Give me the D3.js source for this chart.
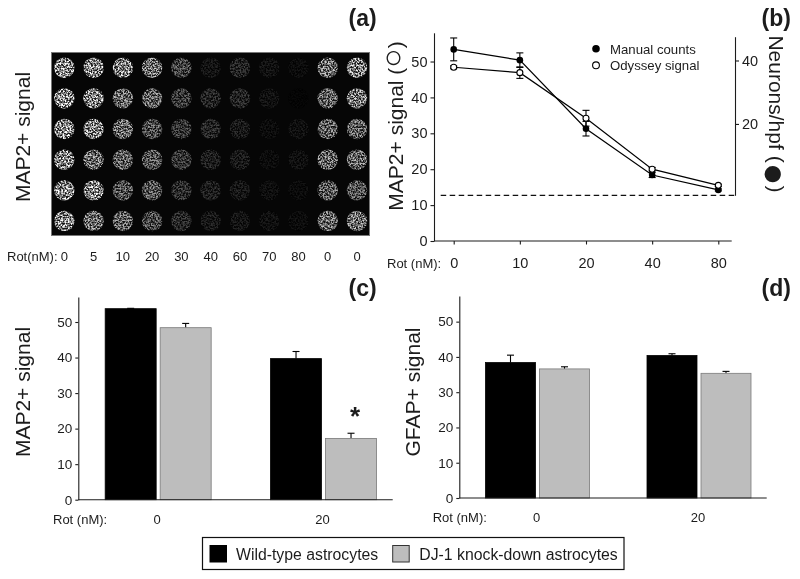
<!DOCTYPE html>
<html><head><meta charset="utf-8">
<script src="https://cdn.jsdelivr.net/npm/d3@7/dist/d3.min.js"></script>
<style>
html,body{margin:0;background:#fff}
svg{display:block;filter:blur(0.3px)}
text{font-family:"Liberation Sans",Arial,sans-serif;fill:#1c1c1c}
.b .tick text{font-size:14.5px}
.cd .tick text{font-size:13.5px}
</style></head><body><svg id="c" width="800" height="579"></svg>
<script>
// Panel (a)
const doseLabels=["0","5","10","20","30","40","60","70","80","0","0"];
const wellRows=["A","B","C","D","E","F"];
const wellSignal=[
[.95,.90,.85,.75,.45,.13,.24,.11,.08,.72,.85],
[.95,.90,.70,.65,.38,.24,.24,.11,.03,.66,.80],
[.90,.88,.70,.52,.36,.25,.17,.08,.10,.64,.64],
[.90,.72,.64,.56,.36,.20,.17,.08,.10,.68,.68],
[.95,.90,.55,.56,.30,.20,.15,.09,.07,.60,.56],
[.90,.72,.64,.50,.28,.16,.13,.10,.08,.68,.75]];
// Panel (b)
const bDoses=["0","10","20","40","80"];
const manualCounts=[43.5,40.1,18.5,3.9,-0.8];
const manualErr=[3.6,2.3,2.3,0.8,0.3];
const odysseySignal=[48.4,46.9,34.2,20,15.5];
const odysseyErr=[0.4,1.6,2.2,0.5,0.3];
const bLeftTicks=[0,10,20,30,40,50];
const bRightTicks=[20,40];
// Panels (c),(d)
const groups=["0","20"];
const seriesNames=["Wild-type astrocytes","DJ-1 knock-down astrocytes"];
const seriesColors=["#000000","#bdbdbd"];
const map2Values=[[53.75,48.4],[39.7,17.25]];
const map2Upper=[[53.85,49.6],[41.7,18.7]];
const gfapValues=[[38.4,36.6],[40.4,35.35]];
const gfapUpper=[[40.5,37.2],[40.9,35.9]];
const barTicks=[0,10,20,30,40,50];

const svg=d3.select("#c");
const defs=svg.append("defs");
const f=defs.append("filter").attr("id","speck").attr("color-interpolation-filters","sRGB")
 .attr("filterUnits","userSpaceOnUse").attr("x",50).attr("y",50).attr("width",322).attr("height",190);
f.append("feTurbulence").attr("type","fractalNoise").attr("baseFrequency",.6).attr("numOctaves",2).attr("seed",7).attr("result","n");
f.append("feColorMatrix").attr("in","n").attr("type","matrix")
 .attr("values","3.2 0 0 0 -1.15  3.2 0 0 0 -1.15  3.2 0 0 0 -1.15  0 0 0 0 1").attr("result","m");
f.append("feComposite").attr("in","SourceGraphic").attr("in2","m").attr("operator","arithmetic").attr("k1",1.0).attr("k2",.1).attr("result","c");
f.append("feGaussianBlur").attr("in","c").attr("stdDeviation",.45);

function rotLabel(parent,txt,x,y,size,rot,glyph,gSize,close,gShift=0){
  const t=parent.append("text").attr("transform",`translate(${x},${y}) rotate(${rot})`)
   .attr("text-anchor","middle").attr("font-size",size).text(txt);
  if(glyph){ t.append("tspan").attr("font-size",gSize).attr("dy",gShift).text(glyph); t.append("tspan").attr("dy",-gShift).text(close); }
  return t;
}
function letter(t,x,y){svg.append("text").attr("x",x).attr("y",y).attr("font-size",23).attr("font-weight","bold").text(t);}
function axisStyle(g){g.selectAll("path,line").attr("stroke","#1c1c1c").attr("stroke-width",1.1);}
letter("(a)",348.5,26);letter("(b)",761.5,26);letter("(c)",348.5,296);letter("(d)",761.5,296);

// ---- a
const ax=d3.scalePoint().domain(d3.range(doseLabels.length)).range([64.3,357]);
const ay=d3.scalePoint().domain(wellRows).range([67.7,221]);
svg.append("rect").attr("x",51.5).attr("y",52.5).attr("width",318).attr("height",183).attr("fill","#060606").attr("stroke","#777");
const spots=svg.append("g").attr("filter","url(#speck)");
wellSignal.forEach((row,r)=>row.forEach((v,c)=>{
  const k=Math.round(v*255);
  spots.append("circle").attr("cx",ax(c)).attr("cy",ay(wellRows[r])).attr("r",10.2).attr("fill",`rgb(${k},${k},${k})`);
}));
svg.append("g").selectAll("text").data(doseLabels).join("text").attr("x",(d,i)=>ax(i)).attr("y",261).attr("text-anchor","middle").attr("font-size",13).text(d=>d);
svg.append("text").attr("x",7).attr("y",261).attr("font-size",13).text("Rot(nM):");
rotLabel(svg,"MAP2+ signal",30,137,21,-90);

// ---- b
const bx=d3.scalePoint().domain(bDoses).range([453.7,718.3]);
const byL=d3.scaleLinear().domain([0,58]).range([241,32.8]);
const byR=d3.scaleLinear().domain([-2.5,47.5]).range([195.3,36.7]);
const gbL=svg.append("g").attr("class","b").attr("transform","translate(434,0)").call(d3.axisLeft(byL).tickValues(bLeftTicks).tickSize(3.5).tickSizeOuter(0).tickPadding(3));axisStyle(gbL);
const gbR=svg.append("g").attr("class","b").attr("transform","translate(735,0)").call(d3.axisRight(byR).tickValues(bRightTicks).tickSize(4).tickSizeOuter(0).tickPadding(3));axisStyle(gbR);
const gbB=svg.append("g").attr("class","b").attr("transform","translate(0,241)").call(d3.axisBottom(bx).tickSize(3.5).tickPadding(13));axisStyle(gbB);
gbB.select(".domain").remove();
svg.append("line").attr("x1",434).attr("x2",731.7).attr("y1",241).attr("y2",241).attr("stroke","#1c1c1c").attr("stroke-width",1.1);
svg.append("line").attr("x1",440.7).attr("x2",735).attr("y1",byR(-2.5)).attr("y2",byR(-2.5)).attr("stroke","#111").attr("stroke-width",1.2).attr("stroke-dasharray","5.5 3.5");
svg.append("text").attr("x",387).attr("y",268).attr("font-size",13).text("Rot (nM):");

function errs(vals,er,y){
  vals.forEach((v,i)=>{
    const x=bx(bDoses[i]),t=y(v+er[i]),b=y(v-er[i]);
    const g=svg.append("g").attr("stroke","#000").attr("stroke-width",1.1);
    g.append("line").attr("x1",x).attr("x2",x).attr("y1",t).attr("y2",b);
    g.append("line").attr("x1",x-3.5).attr("x2",x+3.5).attr("y1",t).attr("y2",t);
    g.append("line").attr("x1",x-3.5).attr("x2",x+3.5).attr("y1",b).attr("y2",b);
  });
}
errs(manualCounts,manualErr,byR);errs(odysseySignal,odysseyErr,byL);
const lineR=d3.line().x((d,i)=>bx(bDoses[i])).y(d=>byR(d));
const lineL=d3.line().x((d,i)=>bx(bDoses[i])).y(d=>byL(d));
svg.append("path").attr("d",lineR(manualCounts)).attr("fill","none").attr("stroke","#000").attr("stroke-width",1.2);
svg.append("path").attr("d",lineL(odysseySignal)).attr("fill","none").attr("stroke","#000").attr("stroke-width",1.2);
svg.append("g").selectAll("circle").data(manualCounts).join("circle").attr("cx",(d,i)=>bx(bDoses[i])).attr("cy",d=>byR(d)).attr("r",3.3).attr("fill","#000");
svg.append("g").selectAll("circle").data(odysseySignal).join("circle").attr("cx",(d,i)=>bx(bDoses[i])).attr("cy",d=>byL(d)).attr("r",3).attr("fill","#fff").attr("stroke","#000").attr("stroke-width",1.1);
svg.append("circle").attr("cx",596).attr("cy",48.7).attr("r",3.8).attr("fill","#000");
svg.append("circle").attr("cx",596).attr("cy",65.3).attr("r",3.4).attr("fill","#fff").attr("stroke","#000").attr("stroke-width",1.1);
svg.append("text").attr("x",610).attr("y",53.5).attr("font-size",13.2).text("Manual counts");
svg.append("text").attr("x",610).attr("y",70).attr("font-size",13.2).text("Odyssey signal");
rotLabel(svg,"MAP2+ signal (",403,126,21,-90,"○",32,")");
rotLabel(svg,"Neurons/hpf (",769,114,21,90,"●",38,")",7);

// ---- c,d
function bars(cfg){
  const x0=d3.scaleBand().domain(groups).range(cfg.xr);
  const h=cfg.barW+2;
  const x1=d3.scaleBand().domain(seriesNames).range([-h,h]).paddingInner(4/(cfg.barW+4)).paddingOuter(0);
  const y=d3.scaleLinear().domain([0,cfg.top]).range([cfg.y0,cfg.y0-cfg.top*cfg.k]);
  const ga=svg.append("g").attr("class","cd").attr("transform",`translate(${cfg.ax},0)`).call(d3.axisLeft(y).tickValues(barTicks).tickSize(3).tickSizeOuter(0).tickPadding(3));axisStyle(ga);
  cfg.vals.forEach((row,g)=>row.forEach((v,s)=>{
    const cx=x0(groups[g])+x0.bandwidth()/2, X=cx+x1(seriesNames[s]), W=x1.bandwidth(), mid=X+W/2;
    const up=cfg.up[g][s];
    const e=svg.append("g").attr("stroke","#000").attr("stroke-width",1.1);
    e.append("line").attr("x1",mid).attr("x2",mid).attr("y1",y(up)).attr("y2",y(v));
    e.append("line").attr("x1",mid-3.5).attr("x2",mid+3.5).attr("y1",y(up)).attr("y2",y(up));
    svg.append("rect").attr("x",X).attr("y",y(v)).attr("width",W).attr("height",y(0)-y(v)).attr("fill",seriesColors[s]).attr("stroke",s?"#7a7a7a":"#000").attr("stroke-width",.8);
  }));
  svg.append("line").attr("x1",cfg.ax).attr("x2",cfg.xEnd).attr("y1",y(0)).attr("y2",y(0)).attr("stroke","#1c1c1c").attr("stroke-width",1.1);
  groups.forEach(g=>svg.append("text").attr("x",x0(g)+x0.bandwidth()/2-1).attr("y",cfg.y0+24).attr("text-anchor","middle").attr("font-size",13).text(g));
  svg.append("text").attr("x",cfg.rotX).attr("y",cfg.y0+24).attr("font-size",13).text("Rot (nM):");
  rotLabel(svg,cfg.label,cfg.lx,392,21,-90);
  return {x0,y};
}
bars({xr:[75.5,406.2],barW:51,top:57,y0:499.7,k:3.554,ax:78.3,xEnd:392.7,vals:map2Values,up:map2Upper,rotX:53,label:"MAP2+ signal",lx:30});
bars({xr:[456.75,779.75],barW:50,top:57.3,y0:498,k:3.527,ax:459.3,xEnd:766.7,vals:gfapValues,up:gfapUpper,rotX:432.7,label:"GFAP+ signal",lx:420});
svg.append("text").attr("x",355).attr("y",425).attr("text-anchor","middle").attr("font-size",26).attr("font-weight","bold").text("*");

// ---- legend
svg.append("rect").attr("x",202.5).attr("y",537.5).attr("width",421.5).attr("height",32).attr("fill","#fff").attr("stroke","#111").attr("stroke-width",1.2);
const legX=[210,392.7],legT=[236,419.3];
seriesNames.forEach((n,i)=>{
  svg.append("rect").attr("x",legX[i]).attr("y",545.5).attr("width",16.5).attr("height",16.5).attr("fill",seriesColors[i]).attr("stroke",i?"#333":"#000");
  svg.append("text").attr("x",legT[i]).attr("y",559.5).attr("font-size",15.8).text(n);
});
</script></body></html>
